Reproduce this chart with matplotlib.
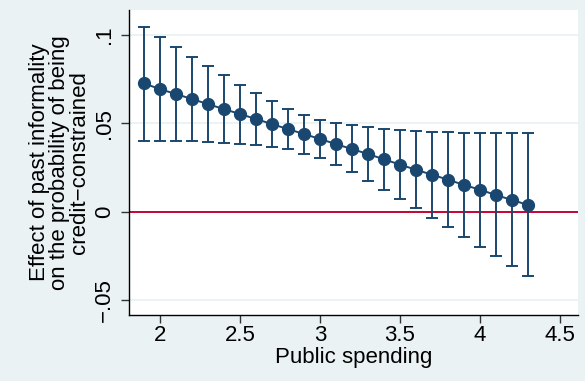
import numpy as np
import matplotlib
matplotlib.use("Agg")
import matplotlib.pyplot as plt

# marginal effect of past informality at each level of public spending
spending = [1.9, 2.0, 2.1, 2.2, 2.3, 2.4, 2.5, 2.6, 2.7, 2.8, 2.9, 3.0, 3.1,
            3.2, 3.3, 3.4, 3.5, 3.6, 3.7, 3.8, 3.9, 4.0, 4.1, 4.2, 4.3]
effect = [0.0725, 0.0693, 0.0665, 0.0637, 0.0608, 0.0580, 0.0552, 0.0524,
          0.0495, 0.0467, 0.0439, 0.0411, 0.0382, 0.0354, 0.0326, 0.0296,
          0.0266, 0.0237, 0.0209, 0.0181, 0.0151, 0.0124, 0.0094, 0.0066,
          0.0038]
upper = [0.1045, 0.0989, 0.0934, 0.0877, 0.0823, 0.0772, 0.0718, 0.0671,
         0.0627, 0.0582, 0.0546, 0.0520, 0.0499, 0.0488, 0.0477, 0.0467,
         0.0462, 0.0456, 0.0452, 0.0450, 0.0446, 0.0445, 0.0445, 0.0445,
         0.0442]
lower = [0.0401, 0.0401, 0.0399, 0.0397, 0.0394, 0.0390, 0.0384, 0.0377,
         0.0367, 0.0352, 0.0328, 0.0301, 0.0264, 0.0222, 0.0175, 0.0124,
         0.0073, 0.0021, -0.0034, -0.0089, -0.0143, -0.0198, -0.0252,
         -0.0309, -0.0366]

xticks = [2, 2.5, 3, 3.5, 4, 4.5]
xticklabels = ["2", "2.5", "3", "3.5", "4", "4.5"]
yticks = [-0.05, 0, 0.05, 0.1]
yticklabels = ["-.05", "0", ".05", ".1"]

NAVY = "#1a476f"
RED = "#c10534"
BG = "#eaf2f3"
FS = 16

plt.rcParams["font.family"] = ["Liberation Sans", "DejaVu Sans"]

fig = plt.figure(figsize=(5.85, 3.81), dpi=100, facecolor=BG)
ax = fig.add_axes([0.2205, 0.173, 0.7675, 0.801])
ax.set_facecolor("white")

x = np.array(spending)
y = np.array(effect)
yerr = [y - np.array(lower), np.array(upper) - y]

for v in yticks:
    ax.axhline(v, color=BG, lw=1.3, zorder=0)
ax.axhline(0, color=RED, lw=1.4, zorder=1)
ax.errorbar(x, y, yerr=yerr, fmt="none", ecolor=NAVY, elinewidth=1.4,
            capsize=4, capthick=1.4, zorder=2)
ax.plot(x, y, "-o", color=NAVY, lw=1.4, markersize=8.5, zorder=3)

ax.set_xlim(1.806, 4.6125)
ax.set_ylim(-0.0585, 0.1141)
ax.set_xticks(xticks)
ax.set_xticklabels(xticklabels)
ax.set_yticks(yticks)
ax.set_yticklabels([t.replace("-", "\u2212") for t in yticklabels],
                   rotation=90, va="center")
ax.tick_params(axis="both", labelsize=FS, length=6, width=1, color="#333333",
               direction="out")
ax.tick_params(axis="x", pad=1)
ax.tick_params(axis="y", pad=4)

for s in ["top", "right"]:
    ax.spines[s].set_visible(False)
for s in ["left", "bottom"]:
    ax.spines[s].set_color("black")
    ax.spines[s].set_linewidth(1)

ax.set_xlabel("Public spending", fontsize=FS, labelpad=1)
ax.set_ylabel("Effect of past informality\non the probability of being\ncredit\u2212constrained",
              fontsize=FS, linespacing=0.92, labelpad=3)

fig.savefig("out.png", dpi=100, facecolor=BG)
